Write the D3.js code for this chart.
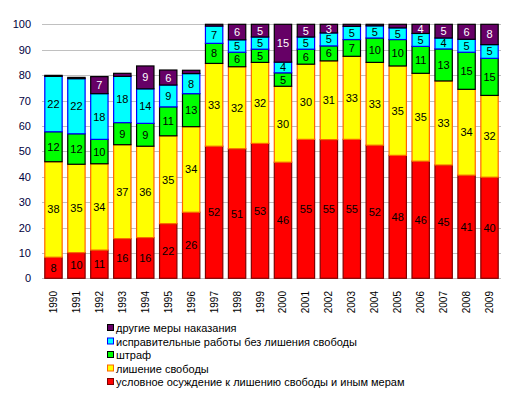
<!DOCTYPE html>
<html><head><meta charset="utf-8">
<script src="https://cdn.jsdelivr.net/npm/d3@7"></script>
<style>body{margin:0;background:#fff}svg{display:block}</style>
</head><body>
<script>
const years = ["1990","1991","1992","1993","1994","1995","1996","1997","1998","1999","2000","2001","2002","2003","2004","2005","2006","2007","2008","2009"];
const suspended = [8.3,10.1,11.1,15.6,16.0,21.5,26.0,52.0,51.0,53.1,45.7,54.7,54.6,54.7,52.4,48.4,46.1,44.6,40.6,39.8];
const prison    = [37.6,34.8,34.0,37.0,36.0,34.6,33.7,32.6,32.3,31.9,29.9,29.6,31.0,32.7,32.6,35.2,34.6,33.1,33.8,32.2];
const fine      = [11.8,12.0,9.6,8.7,9.0,11.4,13.0,7.9,5.7,5.2,5.3,5.9,5.9,6.6,9.6,10.4,10.6,12.6,14.6,14.6];
const labour    = [21.8,21.7,18.0,18.2,13.6,8.6,7.9,6.8,4.9,4.8,4.2,4.8,5.1,5.2,4.8,4.6,5.1,4.3,5.1,5.4];
const other     = [0.4,0.5,6.7,1.2,9.0,5.9,1.3,0.7,6.1,5.0,14.9,5.0,3.4,0.8,0.6,1.4,3.6,5.4,5.9,8.0];
const yTicks = [0,10,20,30,40,50,60,70,80,90,100];
const seriesNames = ["условное осуждение к лишению свободы и иным мерам","лишение свободы","штраф","исправительные работы без лишения свободы","другие меры наказания"];

const seriesData = [suspended, prison, fine, labour, other];
const fills = ["#FF0000","#FFFF00","#00FF00","#00FFFF","#660066"];
const strokes = ["#800000","#FF6600","#000000","#0000FF","#000000"];
const labelColors = ["#000","#000","#000","#000","#fff"];

const W=517,H=397;
const svg=d3.select("body").append("svg").attr("width",W).attr("height",H);
const x=d3.scaleBand().domain(years).range([42,501]).paddingInner(0.2).paddingOuter(0.1);
const y=d3.scaleLinear().domain([0,100]).range([278.3,24.3]);

// grid
svg.append("g").selectAll("line").data(yTicks).join("line")
 .attr("x1",42).attr("x2",501).attr("y1",d=>Math.round(y(d))+0.5).attr("y2",d=>Math.round(y(d))+0.5)
 .attr("stroke","#C0C0C0").attr("stroke-width",1);
svg.append("g").selectAll("text").data(yTicks).join("text")
 .attr("x",31).attr("y",d=>y(d)+4).attr("text-anchor","end")
 .attr("font-family","Liberation Sans, Arial, sans-serif").attr("font-size",11).attr("fill","#000040")
 .text(d=>d);

const table = years.map((yr,i)=>{const o={year:yr};seriesNames.forEach((n,k)=>o[n]=seriesData[k][i]);return o;});
const stack=d3.stack().keys(seriesNames)(table);

stack.forEach((layer,k)=>{
  const g=svg.append("g");
  g.selectAll("rect").data(layer).join("rect")
   .attr("x",d=>x(d.data.year)+0.5).attr("width",x.bandwidth()-1)
   .attr("y",d=>y(d[1])).attr("height",d=>y(d[0])-y(d[1]))
   .attr("fill",fills[k]).attr("stroke",strokes[k]).attr("stroke-width",1.2);
});
stack.forEach((layer,k)=>{
  svg.append("g").selectAll("text").data(layer.filter(d=>d[1]-d[0]>=2)).join("text")
   .attr("x",d=>x(d.data.year)+x.bandwidth()/2).attr("y",d=>(y(d[0])+y(d[1]))/2+4)
   .attr("text-anchor","middle").attr("font-family","Liberation Sans, Arial, sans-serif").attr("font-size",11)
   .attr("fill",labelColors[k]).text(d=>Math.round(d[1]-d[0]));
});

// x labels
svg.append("g").selectAll("text").data(years).join("text")
 .attr("transform",d=>`translate(${x(d)+x.bandwidth()/2+3.5},291) rotate(-90)`)
 .attr("text-anchor","end").attr("font-family","Liberation Sans, Arial, sans-serif").attr("font-size",10).attr("fill","#000")
 .text(d=>d);

// legend
const leg=[4,3,2,1,0];
const lg=svg.append("g");
leg.forEach((k,i)=>{
  const cy=328+i*13.5;
  lg.append("rect").attr("x",107.5).attr("y",cy-3.5).attr("width",6).attr("height",6)
   .attr("fill",fills[k]).attr("stroke",strokes[k]).attr("stroke-width",1);
  lg.append("text").attr("x",116).attr("y",cy+4).attr("font-family","Liberation Sans, Arial, sans-serif")
   .attr("font-size",11).attr("fill","#000").text(seriesNames[k]);
});
</script>
</body></html>
